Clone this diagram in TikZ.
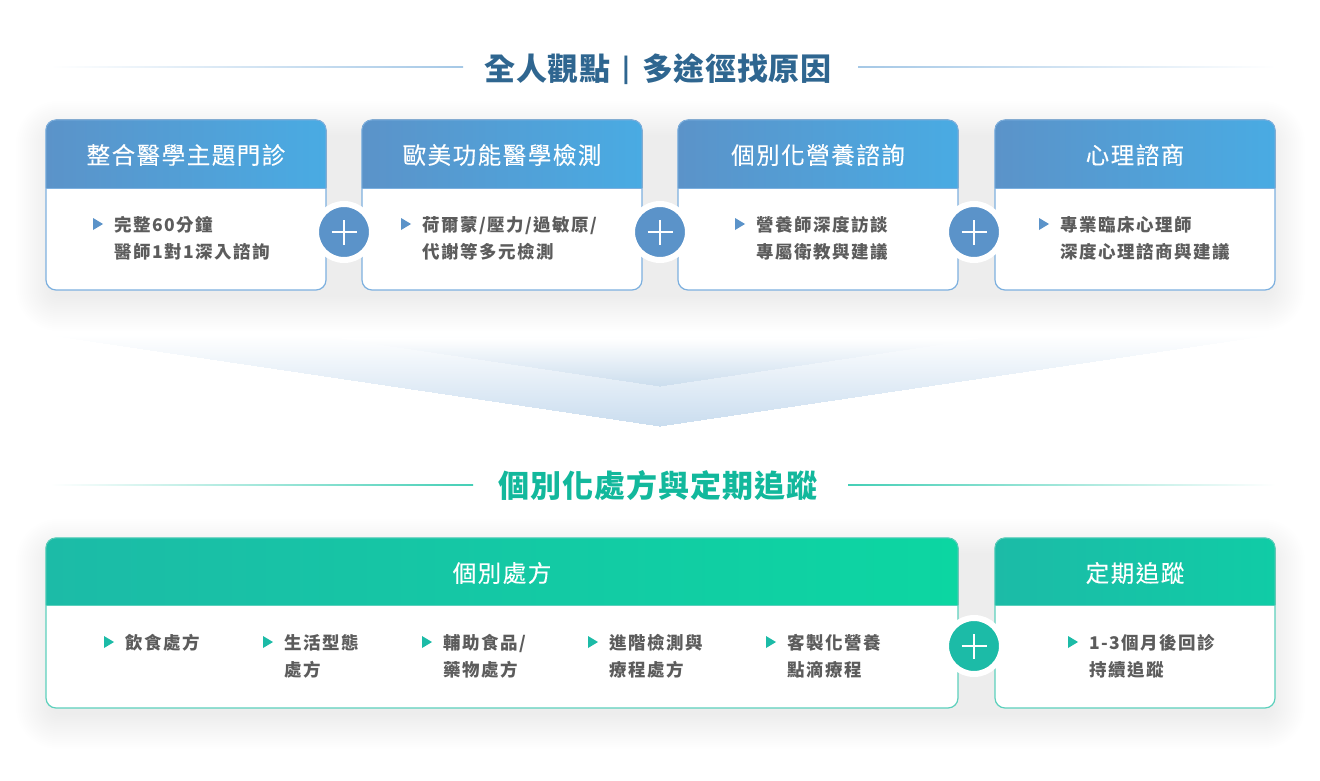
\documentclass[tikz,border=0pt]{standalone}
\usepackage{fontspec}
\setmainfont{Noto Sans CJK TC}
\newfontfamily\titlefont[LetterSpace=2]{Noto Sans CJK TC}
\newfontfamily\greenfont[LetterSpace=3]{Noto Sans CJK TC}
\newfontfamily\headfont[LetterSpace=6.5,FakeBold=0.15]{Noto Sans CJK TC}
\newfontfamily\bodyfont[LetterSpace=8.5]{Noto Sans CJK TC}
\definecolor{bluedark}{HTML}{5B93C9}
\definecolor{bluelight}{HTML}{49ABE3}
\definecolor{blueedge}{HTML}{7DB0DF}
\definecolor{greendark}{HTML}{1CBBA7}
\definecolor{greenlight}{HTML}{0CD6A2}
\definecolor{greenmid}{HTML}{10CCA6}
\definecolor{greenedge}{HTML}{5CD0BC}
\definecolor{titleblue}{HTML}{2F6690}
\definecolor{titlegreen}{HTML}{12B89C}
\definecolor{bodygray}{HTML}{5C5C5C}
\definecolor{lineblue}{HTML}{A5C8E6}
\definecolor{linegreen}{HTML}{45CFB6}
\definecolor{arrowblue}{HTML}{CADDEF}
\definecolor{arrowback}{HTML}{CCDEEE}
\definecolor{shadowblue}{HTML}{5A7590}
\definecolor{shadowgreen}{HTML}{5A8580}
\tikzset{
  cardbox/.style={draw, fill=white, rounded corners=10pt, line width=1.2pt, inner sep=0pt},
  headtext/.style={text=white, inner sep=0pt, font=\headfont\fontsize{23.5}{28}\selectfont},
  bodytext/.style={anchor=north west, inner sep=0pt, align=left, text=bodygray,
     font=\bodyfont\bfseries\fontsize{17.5}{27}\selectfont},
  plusnode/.style={circle, draw=white, line width=6pt, fill=#1, minimum size=56pt, inner sep=0pt,
     path picture={
       \draw[white, line width=1.4pt] ([xshift=-12.5pt]path picture bounding box.center) -- ([xshift=12.5pt]path picture bounding box.center);
       \draw[white, line width=1.4pt] ([yshift=-12.5pt]path picture bounding box.center) -- ([yshift=12.5pt]path picture bounding box.center);
     }},
}
% shadow: x1 y1 x2 y2 colour
\newcommand{\softshadow}[5]{%
  \foreach \e in {-4,-2,...,30}{
    \pgfmathsetmacro{\rr}{max(12,12+\e)}
    \fill[#5, opacity=0.005, rounded corners=\rr pt]
      (#1-\e,#2-\e+11) rectangle (#3+\e,#4+\e+11);
  }}
% card body: name x1 x2 y1 y2 edge
\newcommand{\cardat}[6]{%
  \node[cardbox, draw=#6, minimum width={(#3-#2)*1pt}, minimum height={(#5-#4)*1pt}] (#1) at ({(#2+#3)/2},{(#4+#5)/2}) {};
}
% card header band: x1 x2 y1 y2 left right edge
\newcommand{\headat}[7]{%
  \fill[left color=#5, right color=#6]
    (#1,#4) [rounded corners=10pt] -- (#1,#3) -- (#2,#3) [sharp corners] -- (#2,#4) -- cycle;
  \draw[#7, line width=.8pt] (#1,#4) -- (#2,#4);
  \draw[#7, line width=.8pt] (#1,#4) [rounded corners=10pt] -- (#1,#3) -- (#2,#3) [sharp corners] -- (#2,#4);
}
% chevron painted as nested triangles: top half-width, top y, apex y, last y, colour
\newcommand{\chevron}[5]{%
  \foreach \t in {#2,...,#4}{
    \pgfmathsetmacro{\hw}{(#3-\t)/(#3-#2)*#1}
    \pgfmathsetmacro{\pc}{(\t-#2)/(#3-#2)*100}
    \fill[#5!\pc!white] (660-\hw,\t) -- (660+\hw,\t) -- (660,#3) -- cycle;
  }}
% list item: name x y colour text
\newcommand{\listitem}[5]{%
  \coordinate (#1t) at (#2,#3);
  \fill[#4] ([yshift=-6pt]#1t) -- ([xshift=10pt]#1t) -- ([yshift=6pt]#1t) -- cycle;
  \node[bodytext] (#1) at (#2+21,#3-11.5) {\rule{0pt}{19pt}#5};
}
\begin{document}
\begin{tikzpicture}[x=1pt,y=-1pt]
\useasboundingbox (0,0) rectangle (1320,781);
\fill[white] (0,0) rectangle (1320,781);

% section titles and rules
\fill[left color=white, right color=lineblue] (50,66.5) rectangle (463,67.5);
\fill[left color=lineblue, right color=white] (858,66.5) rectangle (1276,67.5);
\node[text=titleblue, inner sep=0pt, font=\titlefont\bfseries\fontsize{31}{36}\selectfont] (title1) at (658,69)
  {全人觀點\hspace{12pt}\raisebox{3pt}{\fontsize{25}{30}\selectfont|}\hspace{12pt}多途徑找原因};

\fill[left color=white, right color=linegreen] (50,484.5) rectangle (473,485.5);
\fill[left color=linegreen, right color=white] (848,484.5) rectangle (1276,485.5);
\node[text=titlegreen, inner sep=0pt, font=\greenfont\bfseries\fontsize{31}{36}\selectfont] (title2) at (658,486)
  {個別化處方與定期追蹤};

% soft shadows, one per row
\softshadow{46}{120}{1275}{290}{shadowblue}
\softshadow{46}{538}{1275}{708}{shadowgreen}

% chevrons
\chevron{610}{335}{426}{425}{arrowblue}
\chevron{323}{338}{386}{385}{arrowback}

% cards
\cardat{c1}{46}{326}{120}{290}{blueedge}
\cardat{c2}{362}{642}{120}{290}{blueedge}
\cardat{c3}{678}{958}{120}{290}{blueedge}
\cardat{c4}{995}{1275}{120}{290}{blueedge}
\cardat{c5}{46}{958}{538}{708}{greenedge}
\cardat{c6}{995}{1275}{538}{708}{greenedge}
\headat{46}{326}{120}{188}{bluedark}{bluelight}{blueedge}
\headat{362}{642}{120}{188}{bluedark}{bluelight}{blueedge}
\headat{678}{958}{120}{188}{bluedark}{bluelight}{blueedge}
\headat{995}{1275}{120}{188}{bluedark}{bluelight}{blueedge}
\headat{46}{958}{538}{605}{greendark}{greenlight}{greenedge}
\headat{995}{1275}{538}{605}{greendark}{greenmid}{greenedge}

\node[headtext] (h1) at (186,155) {整合醫學主題門診};
\node[headtext] (h2) at (502,155) {歐美功能醫學檢測};
\node[headtext] (h3) at (818,155) {個別化營養諮詢};
\node[headtext] (h4) at (1135,155) {心理諮商};
\node[headtext] (h5) at (502,573) {個別處方};
\node[headtext] (h6) at (1135,573) {定期追蹤};

% list items
\listitem{b1}{93}{224}{bluedark}{完整60分鐘\\醫師1對1深入諮詢}
\listitem{b2}{401}{224}{bluedark}{荷爾蒙/壓力/過敏原/\\代謝等多元檢測}
\listitem{b3}{735}{224}{bluedark}{營養師深度訪談\\專屬衛教與建議}
\listitem{b4}{1039}{224}{bluedark}{專業臨床心理師\\深度心理諮商與建議}
\listitem{b5}{104}{642}{greendark}{飲食處方}
\listitem{b6}{263}{642}{greendark}{生活型態\\處方}
\listitem{b7}{422}{642}{greendark}{輔助食品/\\藥物處方}
\listitem{b8}{588}{642}{greendark}{進階檢測與\\療程處方}
\listitem{b9}{766}{642}{greendark}{客製化營養\\點滴療程}
\listitem{b10}{1068}{642}{greendark}{1-3個月後回診\\持續追蹤}

% plus signs
\node[plusnode=bluedark] (p1) at (344,232) {};
\node[plusnode=bluedark] (p2) at (660,232) {};
\node[plusnode=bluedark] (p3) at (974,232) {};
\node[plusnode=greendark] (p4) at (974,646) {};
\end{tikzpicture}
\end{document}
